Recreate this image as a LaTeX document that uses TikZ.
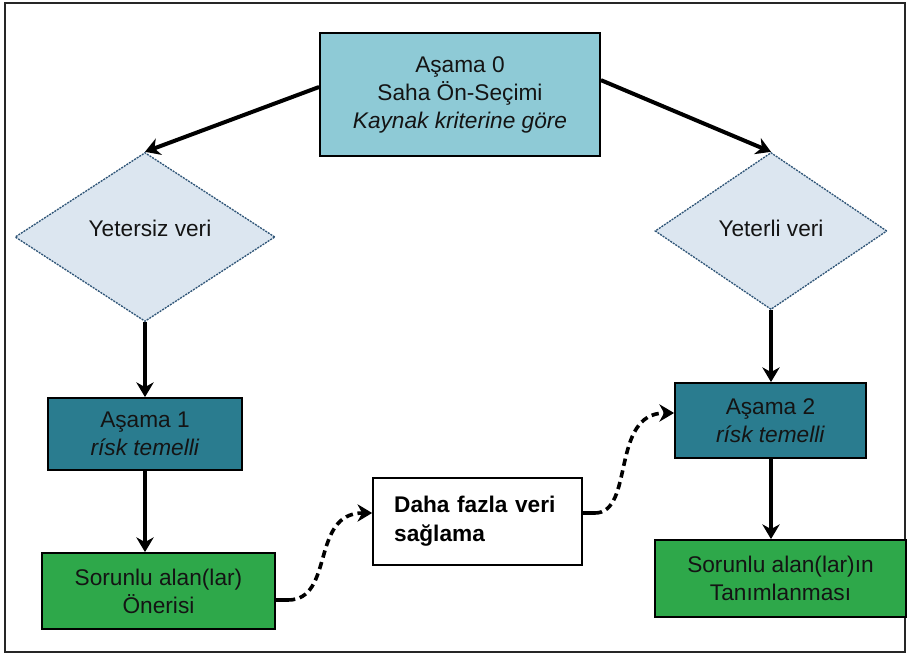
\documentclass[tikz,border=0pt]{standalone}
\usepackage{fontspec}
\setmainfont{Liberation Sans}
\usetikzlibrary{shapes.geometric,arrows.meta,calc}
\definecolor{stageZero}{HTML}{8ECAD6}
\definecolor{stageTeal}{HTML}{2A7C8F}
\definecolor{stageGreen}{HTML}{2EA84A}
\definecolor{diaFill}{HTML}{DCE6F0}
\definecolor{diaLine}{HTML}{2F5577}
\definecolor{txt}{HTML}{141414}
\begin{document}
\begin{tikzpicture}[x=0.75pt,y=-0.75pt,
  font=\fontsize{17}{21}\selectfont,
  box/.style={draw=black,line width=1.4pt,inner sep=0pt,align=center,text=txt},
  dia/.style={shape=diamond,draw=diaLine,fill=diaFill,line width=1pt,dash pattern=on 1.5pt off 0.8pt,inner sep=0pt},
  arr/.style={line width=3pt,-{Stealth[length=11pt,width=13pt,inset=3.5pt]}},
  darr/.style={line width=2.7pt,dash pattern=on 5.5pt off 3.5pt,-{Stealth[length=11pt,width=13pt,inset=3.5pt]}}]
\useasboundingbox (0,0) rectangle (908,656);
\draw[line width=2pt,draw=black!85] (5,3) rectangle (905,652);
% nodes
\node[box,fill=stageZero,minimum width=210pt,minimum height=92.25pt] (a0) at (460,94.5)
  {Aşama 0\\Saha Ön-Seçimi\\\textit{Kaynak kriterine göre}};
\node[dia,minimum width=195pt,minimum height=126.75pt] (d1) at (145,237) {};
\node[text=txt] (t1) at (150,228) {Yetersiz veri};
\node[dia,minimum width=174pt,minimum height=117.75pt] (d2) at (771,231) {};
\node[text=txt] (t2) at (771,228) {Yeterli veri};
\node[box,fill=stageTeal,minimum width=145.5pt,minimum height=54pt] (a1) at (145,434)
  {Aşama 1\\\textit{rísk temelli}};
\node[box,fill=stageTeal,minimum width=143.25pt,minimum height=56.25pt] (a2) at (770.5,420.5)
  {Aşama 2\\\textit{rísk temelli}};
\node[box,fill=stageGreen,minimum width=174.75pt,minimum height=57pt] (s1) at (158.5,591)
  {Sorunlu alan(lar)\\Önerisi};
\node[box,fill=stageGreen,minimum width=188.25pt,minimum height=57.75pt] (s2) at (780.5,578.5)
  {Sorunlu alan(lar)ın\\Tanımlanması};
\node[box,fill=white,line width=1.2pt,text=black,font=\fontsize{17}{22}\bfseries\selectfont,
  text width=125pt,align=left,inner xsep=15.9pt,minimum height=65.25pt] (df) at (477.5,521.5)
  {Daha fazla veri\\sağlama};
% connectors
\draw[arr] ($(a0.north west)!0.44!(a0.south west)$) -- (d1.north);
\draw[arr] ($(a0.north east)!0.385!(a0.south east)$) -- (d2.north);
\draw[arr] (d1.south) -- (d1.south |- a1.north);
\draw[arr] (d1.south |- a1.south) -- (d1.south |- s1.north);
\draw[arr] (d2.south) -- (d2.south |- a2.north);
\draw[arr] (d2.south |- a2.south) -- (d2.south |- s2.north);
\coordinate (c1s) at ($(s1.east)+(0,9)$);
\coordinate (c1e) at ($(df.west)+(0,-8.5)$);
\coordinate (c2s) at ($(df.east)+(0,-8.5)$);
\coordinate (c2e) at ($(a2.west)+(0,-7.5)$);
\draw[line width=2.7pt] (c1s) -- ++(12,0);
\draw[darr] ($(c1s)+(12,0)$) .. controls (335,600) and (310,513) .. (c1e);
\draw[line width=2.7pt] (c2s) -- ++(12,0);
\draw[darr] ($(c2s)+(12,0)$) .. controls (635,513) and (610,413) .. (c2e);
\end{tikzpicture}
\end{document}
